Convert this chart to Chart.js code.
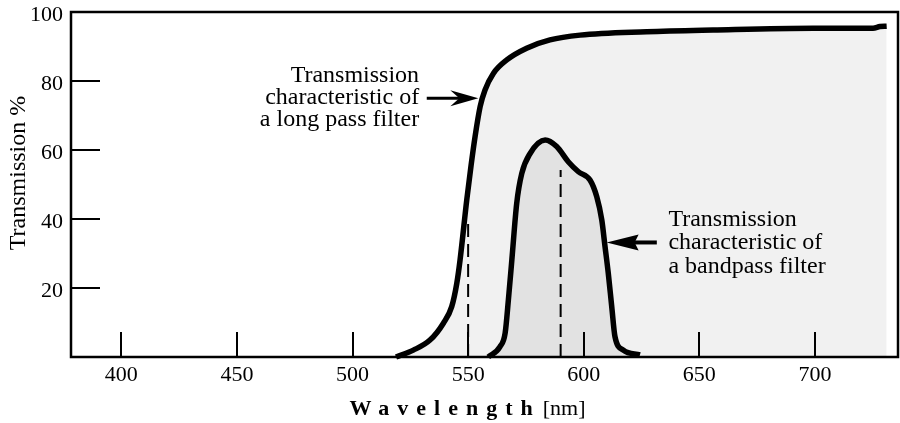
<!DOCTYPE html>
<html><head><meta charset="utf-8">
<script src="https://cdn.jsdelivr.net/npm/chart.js@4/dist/chart.umd.min.js"></script>
<style>html,body{margin:0;padding:0;background:#fff}#c{display:block}</style>
</head><body>
<canvas id="c" width="900" height="423"></canvas>
<script>
// ---- data ----
const longPassNm  = [518.8, 526.3, 533.5, 539.3, 542.9, 545.1, 546.5, 549.4, 551.3, 553.0, 555.2, 557.3, 560.9, 566.7, 575.3, 585.4, 598.4, 627.2, 655.9, 699.2, 725.1, 728.1, 731.0];
const longPassPct = [0, 2.0, 4.9, 9.8, 14.6, 21.4, 28.1, 45.5, 55.7, 63.9, 72.6, 77.4, 82.2, 86.1, 89.5, 91.9, 93.3, 94.3, 94.8, 95.3, 95.3, 95.8, 95.9];
const bandPassNm  = [558.7, 563.8, 566.0, 567.4, 568.9, 571.0, 573.2, 576.8, 583.3, 588.3, 593.3, 597.7, 602.7, 605.6, 607.8, 609.2, 610.6, 612.1, 613.5, 617.1, 624.3];
const bandPassPct = [0, 3.0, 6.9, 16.5, 28.1, 44.5, 53.2, 59.0, 62.9, 61.0, 56.6, 53.7, 51.3, 46.5, 39.7, 32.0, 24.3, 14.6, 5.9, 2.0, 0.6];
const markerNm  = [550, 590];
const markerPct = [38.8, 54.2];
const xTickValues = [400, 450, 500, 550, 600, 650, 700];
const yTickValues = [20, 40, 60, 80, 100];
const yTickMarks  = [20, 40, 60, 80];
const xTitleMain = 'Wavelength';
const xTitleUnit = '[nm]';
const yTitle = 'Transmission %';
const noteLong = ['Transmission', 'characteristic of', 'a long pass filter'];
const noteBand = ['Transmission', 'characteristic of', 'a bandpass filter'];
// annotation anchors in data units: [text nm, first baseline %, arrow tail nm, arrow tip nm, arrow %]
const noteLongAnchor = [528.8, 79.6, 532.1, 554.4, 75.0];
const noteBandAnchor = [636.6, 38.0, 631.6, 609.9, 33.2];

const SERIF = '"Liberation Serif", "Times New Roman", serif';

const pts = (xs, ys) => xs.map((x, i) => ({x: x, y: ys[i]}));

const decor = {
  id: 'decor',
  afterDatasetsDraw(chart) {
    const ctx = chart.ctx, xs = chart.scales.x, ys = chart.scales.y, a = chart.chartArea;
    ctx.save();
    ctx.strokeStyle = '#000';
    ctx.lineWidth = 2;
    ctx.lineCap = 'butt';
    // inward tick marks
    xTickValues.forEach(v => {
      const px = Math.round(xs.getPixelForValue(v));
      ctx.beginPath(); ctx.moveTo(px, a.bottom); ctx.lineTo(px, a.bottom - 25); ctx.stroke();
    });
    yTickMarks.forEach(v => {
      const py = Math.round(ys.getPixelForValue(v));
      ctx.beginPath(); ctx.moveTo(a.left, py); ctx.lineTo(a.left + 29, py); ctx.stroke();
    });
    // frame
    ctx.lineWidth = 2.5;
    ctx.strokeRect(a.left, a.top, a.right - a.left, a.bottom - a.top);

    // annotations
    ctx.fillStyle = '#000';
    ctx.font = '24px ' + SERIF;
    ctx.textBaseline = 'alphabetic';
    const lh = 22;
    // long pass note (right aligned)
    ctx.textAlign = 'right';
    let tx = xs.getPixelForValue(noteLongAnchor[0]);
    let ty = ys.getPixelForValue(noteLongAnchor[1]);
    noteLong.forEach((t, i) => ctx.fillText(t, tx, ty + i * lh));
    // arrow pointing right
    let ax0 = xs.getPixelForValue(noteLongAnchor[2]);
    let ax1 = xs.getPixelForValue(noteLongAnchor[3]);
    let ay = ys.getPixelForValue(noteLongAnchor[4]);
    ctx.lineWidth = 3;
    ctx.beginPath(); ctx.moveTo(ax0, ay); ctx.lineTo(ax1 - 12, ay); ctx.stroke();
    ctx.beginPath(); ctx.moveTo(ax1, ay); ctx.lineTo(ax1 - 28, ay - 8); ctx.lineTo(ax1 - 19, ay); ctx.lineTo(ax1 - 28, ay + 8); ctx.closePath(); ctx.fill();

    // bandpass note (left aligned)
    ctx.textAlign = 'left';
    tx = xs.getPixelForValue(noteBandAnchor[0]);
    ty = ys.getPixelForValue(noteBandAnchor[1]);
    noteBand.forEach((t, i) => ctx.fillText(t, tx, ty + i * 23.5));
    ax0 = xs.getPixelForValue(noteBandAnchor[2]);
    ax1 = xs.getPixelForValue(noteBandAnchor[3]);
    ay = ys.getPixelForValue(noteBandAnchor[4]);
    ctx.lineWidth = 4;
    ctx.beginPath(); ctx.moveTo(ax0, ay); ctx.lineTo(ax1 + 20, ay); ctx.stroke();
    ctx.beginPath(); ctx.moveTo(ax1, ay); ctx.lineTo(ax1 + 32, ay - 8); ctx.lineTo(ax1 + 28, ay); ctx.lineTo(ax1 + 32, ay + 8); ctx.closePath(); ctx.fill();

    // x title: spaced bold word + unit
    ctx.textAlign = 'left';
    ctx.font = 'bold 22px ' + SERIF;
    ctx.letterSpacing = '8px';
    const w1 = ctx.measureText(xTitleMain).width;
    ctx.letterSpacing = '0px';
    ctx.font = '22px ' + SERIF;
    const w2 = ctx.measureText(xTitleUnit).width;
    const total = w1 + 2 + w2;
    let sx = 467.5 - total / 2;
    ctx.font = 'bold 22px ' + SERIF;
    ctx.letterSpacing = '8px';
    ctx.fillText(xTitleMain, sx, 415);
    ctx.letterSpacing = '0px';
    ctx.font = '22px ' + SERIF;
    ctx.fillText(xTitleUnit, sx + w1 + 2, 415);

    // y title
    ctx.save();
    ctx.translate(25, 173);
    ctx.rotate(-Math.PI / 2);
    ctx.textAlign = 'center';
    ctx.font = '24px ' + SERIF;
    ctx.fillText(yTitle, 0, 0);
    ctx.restore();

    ctx.restore();
  }
};

new Chart(document.getElementById('c'), {
  type: 'line',
  data: {
    datasets: [
      { data: pts([markerNm[0], markerNm[0]], [0, markerPct[0]]), borderColor: '#000', borderWidth: 2, borderDash: [13, 7], fill: false, pointRadius: 0, order: 1 },
      { data: pts([markerNm[1], markerNm[1]], [0, markerPct[1]]), borderColor: '#000', borderWidth: 2, borderDash: [13, 7], fill: false, pointRadius: 0, order: 2 },
      { data: pts(bandPassNm, bandPassPct), borderColor: '#000', borderWidth: 5.5, backgroundColor: '#e2e2e2', fill: 'origin', pointRadius: 0, cubicInterpolationMode: 'monotone', clip: false, order: 3 },
      { data: pts(longPassNm, longPassPct), borderColor: '#000', borderWidth: 5.5, backgroundColor: '#f1f1f1', fill: 'origin', pointRadius: 0, cubicInterpolationMode: 'monotone', clip: false, order: 4 }
    ]
  },
  options: {
    responsive: false,
    animation: false,
    devicePixelRatio: 1,
    layout: { padding: { top: 12, right: 2, left: 0, bottom: 0 } },
    plugins: { legend: { display: false }, tooltip: { enabled: false } },
    scales: {
      x: {
        type: 'linear', min: 378.25, max: 735.9,
        grid: { display: false, drawTicks: false },
        border: { display: false },
        afterBuildTicks: s => { s.ticks = xTickValues.map(v => ({ value: v })); },
        afterFit: s => { s.height = 66; s.paddingLeft = 0; s.paddingRight = 0; },
        ticks: { color: '#000', font: { family: SERIF, size: 22 }, padding: 5, maxRotation: 0, autoSkip: false }
      },
      y: {
        type: 'linear', min: 0, max: 100,
        grid: { display: false, drawTicks: false },
        border: { display: false },
        afterBuildTicks: s => { s.ticks = yTickValues.map(v => ({ value: v })); },
        afterFit: s => { s.width = 71; s.paddingTop = 0; s.paddingBottom = 0; },
        ticks: { color: '#000', font: { family: SERIF, size: 22 }, padding: 8, labelOffset: 3 }
      }
    }
  },
  plugins: [decor]
});
</script>
</body></html>
